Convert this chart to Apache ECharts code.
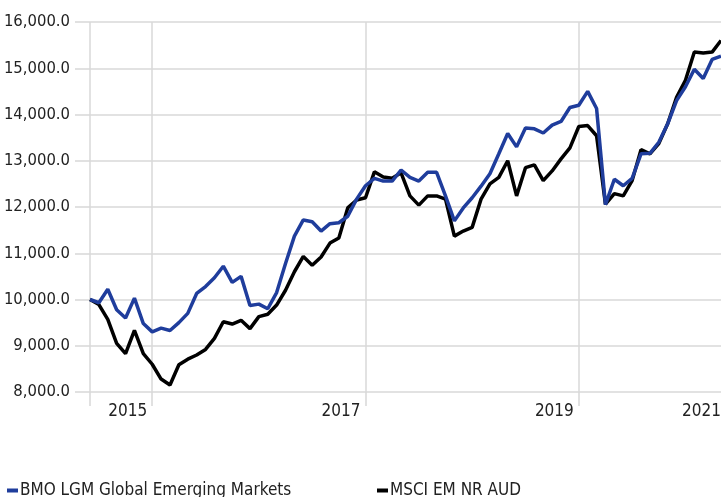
<!DOCTYPE html>
<html>
<head>
<meta charset="utf-8">
<script src="https://cdn.jsdelivr.net/npm/echarts@6/dist/echarts.min.js"></script>
<style>
  html, body { margin: 0; padding: 0; background: #fff; }
  #chart { width: 721px; height: 497px; }
</style>
</head>
<body>
<div id="chart"></div>
<script>
// monthly points, May 2015 .. Apr 2021
const months = [];
for (let y = 2015, m = 4; months.length < 72; m++) {
  if (m > 11) { m = 0; y++; }
  months.push(y + "-" + String(m + 1).padStart(2, "0"));
}

// BMO LGM Global Emerging Markets (growth of 10,000)
const bmoValues = [
  10000, 9930, 10220, 9780, 9600, 10030, 9480, 9300, 9380, 9330,
  9500, 9700, 10130, 10280, 10470, 10720, 10370, 10500, 9870, 9900,
  9800, 10150, 10780, 11370, 11720, 11680, 11480, 11640, 11660, 11800,
  12170, 12460, 12620, 12560, 12560, 12800, 12640, 12560, 12750, 12750,
  12240, 11700, 11980, 12200, 12450, 12720, 13150, 13590, 13300, 13710,
  13690, 13600, 13770, 13850, 14150, 14200, 14500, 14130, 12050, 12600,
  12460, 12620, 13150, 13160, 13400, 13800, 14300, 14600, 14980, 14780,
  15190, 15260
];

// MSCI EM NR AUD
const msciValues = [
  10000, 9890, 9570, 9050, 8830, 9330, 8830, 8600, 8280, 8150,
  8590, 8710, 8800, 8920, 9160, 9520, 9470, 9550, 9370, 9630,
  9680, 9880, 10200, 10600, 10930, 10740, 10920, 11220, 11330, 11980,
  12150, 12200, 12760, 12650, 12620, 12740, 12240, 12040, 12240, 12240,
  12170, 11370, 11480, 11560, 12170, 12500, 12640, 13000, 12240, 12850,
  12910, 12570, 12780, 13040, 13280, 13740, 13760, 13540, 12060, 12290,
  12240, 12570, 13240, 13150, 13370, 13800, 14370, 14740, 15350, 15330,
  15350, 15600
];

// vertical gridlines and year labels (category indices)
const gridIdx = [0, 7, 31, 55];
const yearIdx = [7, 31, 55, 71];
const yearLabels = ["2015", "2017", "2019", "2021"];

const FONT = "'Liberation Sans Narrow', 'DejaVu Sans Condensed', 'Liberation Sans', sans-serif";
const GRID = "#d8d8d8";
const TXT = "#222";
const FS = 17;

const myChart = echarts.init(document.getElementById("chart"));

const legendBase = {
  top: 482,
  padding: 0,
  icon: "rect",
  itemWidth: 11,
  itemHeight: 4,
  textStyle: { fontFamily: FONT, fontSize: FS, color: TXT, padding: [0, 0, 0, -3] },
};

const option = {
  animation: false,
  textStyle: { fontFamily: FONT },
  grid: { left: 90, right: 0, top: 22, bottom: 105, outerBoundsMode: "none" },
  legend: [
    Object.assign({}, legendBase, { left: 7, data: ["BMO LGM Global Emerging Markets"] }),
    Object.assign({}, legendBase, { left: 377, data: ["MSCI EM NR AUD"] }),
  ],
  xAxis: {
    type: "category",
    data: months,
    boundaryGap: false,
    axisLine: { show: false },
    axisTick: {
      show: true,
      length: 14,
      interval: (i) => gridIdx.includes(i),
      lineStyle: { color: GRID, width: 1.5 },
    },
    splitLine: {
      show: true,
      interval: (i) => gridIdx.includes(i),
      lineStyle: { color: GRID, width: 1.5 },
    },
    axisLabel: {
      interval: (i) => yearIdx.includes(i),
      margin: 11,
      align: "right",
      fontFamily: FONT,
      fontSize: FS,
      color: TXT,
      formatter: (v, i) => {
        const k = yearIdx.indexOf(i);
        if (k < 0) return "";
        return k === yearIdx.length - 1 ? "{e|" + yearLabels[k] + "}" : "{a|" + yearLabels[k] + "}";
      },
      rich: {
        a: { fontFamily: FONT, fontSize: FS, color: TXT, padding: [0, 5, 0, 0] },
        e: { fontFamily: FONT, fontSize: FS, color: TXT, padding: [0, 0, 0, 0] },
      },
    },
  },
  yAxis: {
    type: "value",
    min: 8000,
    max: 16000,
    interval: 1000,
    axisLine: { show: false },
    axisTick: { show: true, length: 15, lineStyle: { color: GRID, width: 1.5 } },
    splitLine: { show: true, lineStyle: { color: GRID, width: 1.5 } },
    axisLabel: {
      margin: 20,
      fontFamily: FONT,
      fontSize: 16.5,
      color: TXT,
      formatter: (v) => v.toLocaleString("en-US", { minimumFractionDigits: 1, maximumFractionDigits: 1 }),
    },
  },
  series: [
    {
      name: "MSCI EM NR AUD",
      type: "line",
      data: msciValues,
      showSymbol: false,
      color: "#000000",
      lineStyle: { width: 3.5, color: "#000000" },
    },
    {
      name: "BMO LGM Global Emerging Markets",
      type: "line",
      data: bmoValues,
      showSymbol: false,
      color: "#1f3d9c",
      lineStyle: { width: 3.5, color: "#1f3d9c" },
    },
  ],
};

myChart.setOption(option);
</script>
</body>
</html>
